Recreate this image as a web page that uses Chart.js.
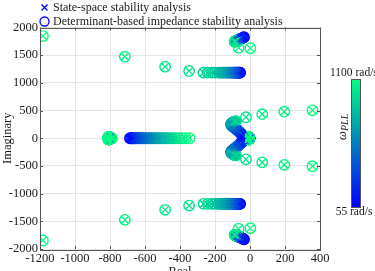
<!DOCTYPE html>
<html>
<head>
    <title>PLL bandwidth sweep - eigenvalue loci</title>
    <script src="https://cdnjs.cloudflare.com/ajax/libs/Chart.js/4.4.1/chart.umd.min.js"></script>
    <style>
        html, body { margin: 0; padding: 0; overflow: hidden; background: #fff; }
        .chart-container { width: 375px; height: 282px; }
    </style>
</head>
<body>
    <div class="chart-container">
        <canvas id="myChart" width="375" height="282"></canvas>
    </div>

    <script>
        // PLL bandwidth values (rad/s), one per sample along every locus
        const omegaPLL = [55, 92, 130, 167, 204, 242, 279, 316, 354, 391, 428, 466, 503, 540, 578,
                          615, 652, 690, 727, 764, 802, 839, 876, 914, 951, 988, 1026, 1063, 1100];

        // complex pair around +-1200j, running out to the far left
        const branchA_re = [-56, -59, -62, -65, -69, -73, -77, -82, -87, -92, -98, -104, -111, -118, -125,
                            -133, -141, -150, -160, -170, -180, -199, -218, -242, -266, -348, -485, -715, -1183];
        const branchA_im = [1184, 1184, 1184, 1184, 1184, 1184, 1184, 1184, 1184, 1184, 1184, 1184, 1184, 1184, 1184,
                            1184, 1184, 1184, 1184, 1184, 1184, 1184, 1184, 1184, 1184, 1215, 1292, 1473, 1846];

        // complex pair near +-1800j
        const branchB_re = [-34, -38, -42, -46, -50, -54, -58, -61, -64, -67, -70, -72, -74, -76, -78,
                            -79, -80, -81, -82, -83, -84, -85, -86, -86, -87, -87, -88, -65, 2];
        const branchB_im = [1826, 1819, 1812, 1805, 1799, 1793, 1788, 1783, 1779, 1775, 1771, 1768, 1765, 1762, 1760,
                            1758, 1756, 1754, 1752, 1751, 1750, 1749, 1748, 1747, 1746, 1745, 1744, 1635, 1625];

        // real pole moving from -686 to -345
        const branchC_re = [-686, -680, -674, -668, -661, -654, -646, -638, -629, -620, -610, -600, -589, -578, -566,
                            -554, -541, -528, -514, -500, -486, -471, -456, -440, -424, -408, -391, -368, -345];

        // poles sitting around -800 (a lightly split pair and a real one)
        const branchD1_re = [-800, -800, -801, -801, -801, -802, -802, -802, -803, -803, -803, -804, -804, -804, -805,
                             -805, -805, -806, -806, -806, -807, -807, -807, -808, -808, -808, -809, -809, -809];
        const branchD1_im = [0, 2, 4, 6, 8, 10, 11, 12, 13, 14, 15, 16, 16, 17, 17,
                             18, 18, 19, 19, 20, 20, 20, 21, 21, 21, 22, 22, 22, 22];
        const branchD2_re = [-800, -800, -799, -799, -799, -798, -798, -798, -797, -797, -797, -796, -796, -796, -795,
                             -795, -795, -794, -794, -794, -793, -793, -793, -792, -792, -792, -791, -791, -791];

        // low-frequency pair: V shape near the origin, then into the right half plane
        const branchE_re = [-35, -38, -42, -46, -50, -55, -60, -65, -71, -77, -83, -89, -95, -100, -104,
                            -107, -108, -107, -104, -100, -96, -92, -88, -84, -80, -23, 70, 196, 357];
        const branchE_im = [25, 38, 52, 66, 80, 96, 112, 128, 144, 160, 175, 190, 204, 217, 229,
                            240, 251, 262, 272, 281, 289, 296, 302, 306, 310, 380, 435, 480, 505];

        // pole next to the origin
        const branchF_re = [-3, -3, -4, -4, -4, -5, -5, -5, -5, -6, -6, -6, -6, -6, -7,
                            -7, -7, -7, -7, -7, -8, -8, -8, -8, -8, -8, -8, -8, -8];
        const branchF_im = [0, 2, 4, 6, 8, 10, 11, 12, 13, 14, 15, 16, 16, 17, 17,
                            18, 18, 19, 19, 20, 20, 20, 21, 21, 21, 22, 22, 22, 22];

        const omegaMin = 55, omegaMax = 1100;

        // MATLAB 'winter' colormap
        function winter(w) {
            const t = Math.min(1, Math.max(0, (w - omegaMin) / (omegaMax - omegaMin)));
            return 'rgb(0,' + Math.round(255 * t) + ',' + Math.round(255 * (1 - 0.5 * t)) + ')';
        }

        const branches = [
            { re: branchA_re, im: branchA_im, pair: true },
            { re: branchB_re, im: branchB_im, pair: true },
            { re: branchC_re, im: null, pair: false },
            { re: branchD1_re, im: branchD1_im, pair: true },
            { re: branchD2_re, im: null, pair: false },
            { re: branchE_re, im: branchE_im, pair: true },
            { re: branchF_re, im: branchF_im, pair: true }
        ];

        const points = [];
        branches.forEach(b => {
            b.re.forEach((re, i) => {
                const im = b.im ? b.im[i] : 0;
                points.push({ x: re, y: im, w: omegaPLL[i] });
                if (b.pair) points.push({ x: re, y: -im, w: omegaPLL[i] });
            });
        });
        // low bandwidth first so the high bandwidth markers end up on top
        points.sort((a, b) => a.w - b.w);

        const serif = '"Liberation Serif", "Times New Roman", serif';
        const textColor = '#1a1a1a';
        const frameColor = '#555';

        const extrasPlugin = {
            id: 'extras',
            afterDraw(chart) {
                const ctx = chart.ctx;
                const a = chart.chartArea;
                const sx = chart.scales.x, sy = chart.scales.y;
                ctx.save();

                // box and inward ticks
                ctx.strokeStyle = frameColor;
                ctx.lineWidth = 1;
                ctx.beginPath();
                sx.ticks.forEach(t => {
                    const p = Math.round(sx.getPixelForValue(t.value)) + 0.5;
                    ctx.moveTo(p, a.bottom); ctx.lineTo(p, a.bottom - 3);
                    ctx.moveTo(p, a.top); ctx.lineTo(p, a.top + 3);
                });
                sy.ticks.forEach(t => {
                    const p = Math.round(sy.getPixelForValue(t.value)) + 0.5;
                    ctx.moveTo(a.left, p); ctx.lineTo(a.left + 3, p);
                    ctx.moveTo(a.right, p); ctx.lineTo(a.right - 3, p);
                });
                ctx.stroke();
                ctx.strokeRect(Math.round(a.left) + 0.5, Math.round(a.top) + 0.5,
                               Math.round(a.right - a.left), Math.round(a.bottom - a.top));

                // legend
                ctx.strokeStyle = 'rgb(0,0,255)';
                ctx.lineWidth = 1.3;
                ctx.beginPath();
                ctx.moveTo(41.5, 4.5); ctx.lineTo(47.5, 10.5);
                ctx.moveTo(47.5, 4.5); ctx.lineTo(41.5, 10.5);
                ctx.stroke();
                ctx.beginPath();
                ctx.arc(44.5, 21.5, 4.5, 0, Math.PI * 2);
                ctx.stroke();
                ctx.fillStyle = textColor;
                ctx.font = '12px ' + serif;
                ctx.textBaseline = 'middle';
                ctx.textAlign = 'left';
                ctx.fillText('State-space stability analysis', 53, 7.5);
                ctx.fillText('Determinant-based impedance stability analysis', 53, 21.5);

                // colour bar
                const cbX = 351, cbY = 79, cbW = 9, cbH = 128;
                const g = ctx.createLinearGradient(0, cbY + cbH, 0, cbY);
                g.addColorStop(0, winter(omegaMin));
                g.addColorStop(1, winter(omegaMax));
                ctx.fillStyle = g;
                ctx.fillRect(cbX, cbY, cbW, cbH);
                ctx.strokeStyle = frameColor;
                ctx.lineWidth = 1;
                ctx.strokeRect(cbX + 0.5, cbY + 0.5, cbW, cbH);

                ctx.fillStyle = textColor;
                ctx.font = '11.5px ' + serif;
                ctx.textAlign = 'left';
                ctx.fillText(omegaMax + ' rad/s', 330, 73);
                ctx.textAlign = 'center';
                ctx.fillText(omegaMin + ' rad/s', 354, 212);

                // omega_PLL label, rotated
                ctx.translate(343, 127);
                ctx.rotate(-Math.PI / 2);
                ctx.textAlign = 'left';
                ctx.font = 'italic 13px ' + serif;
                const wW = ctx.measureText('\u03c9').width;
                ctx.font = 'italic 10px ' + serif;
                const sW = ctx.measureText('PLL').width;
                const x0 = -(wW + sW) / 2;
                ctx.font = 'italic 13px ' + serif;
                ctx.fillText('\u03c9', x0, 0);
                ctx.font = 'italic 10px ' + serif;
                ctx.fillText('PLL', x0 + wW, 2);

                ctx.restore();
            }
        };

        const ctx = document.getElementById('myChart').getContext('2d');
        new Chart(ctx, {
            type: 'scatter',
            data: {
                datasets: [
                    {
                        label: 'State-space stability analysis',
                        data: points,
                        pointStyle: 'crossRot',
                        pointRadius: 4.8,
                        pointBorderWidth: 1.3,
                        pointBorderColor: c => winter(c.raw ? c.raw.w : omegaMin),
                        pointBackgroundColor: 'rgba(0,0,0,0)'
                    },
                    {
                        label: 'Determinant-based impedance stability analysis',
                        data: points,
                        pointStyle: 'circle',
                        pointRadius: 5.2,
                        pointBorderWidth: 1.4,
                        pointBorderColor: c => winter(c.raw ? c.raw.w : omegaMin),
                        pointBackgroundColor: 'rgba(0,0,0,0)'
                    }
                ]
            },
            options: {
                responsive: false,
                animation: false,
                events: [],
                layout: { padding: { top: 27.5, right: 55, left: 0, bottom: 0 } },
                plugins: {
                    legend: { display: false },
                    tooltip: { enabled: false }
                },
                scales: {
                    x: {
                        type: 'linear',
                        min: -1200,
                        max: 400,
                        afterFit: s => { s.height = 33; },
                        ticks: {
                            stepSize: 200,
                            autoSkip: false,
                            maxRotation: 0,
                            padding: 2,
                            color: textColor,
                            font: { family: serif, size: 12.5 },
                            callback: v => String(v)
                        },
                        grid: { color: '#e4e4e4', drawTicks: false },
                        border: { display: false },
                        title: {
                            display: true,
                            text: 'Real',
                            color: textColor,
                            font: { family: serif, size: 12.5 },
                            padding: { top: 0, bottom: 3 }
                        }
                    },
                    y: {
                        min: -2000,
                        max: 2000,
                        afterFit: s => { s.width = 40; },
                        ticks: {
                            stepSize: 500,
                            autoSkip: false,
                            padding: 2,
                            color: textColor,
                            font: { family: serif, size: 12.5 },
                            callback: v => String(v)
                        },
                        grid: { color: '#e4e4e4', drawTicks: false },
                        border: { display: false },
                        title: {
                            display: true,
                            text: 'Imaginary',
                            color: textColor,
                            font: { family: serif, size: 12.5 },
                            padding: 0
                        }
                    }
                }
            },
            plugins: [extrasPlugin]
        });
    </script>
</body>
</html>
